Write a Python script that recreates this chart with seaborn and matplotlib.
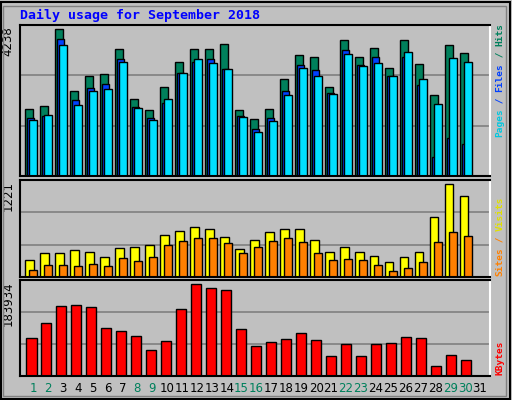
import numpy as np
import pandas as pd
import matplotlib.pyplot as plt
import seaborn as sns
from matplotlib.patches import Rectangle

days = list(range(1, 32))
hits = [1921, 2006, 4238, 2458, 2882, 2938, 3673, 2232, 1893, 2571, 3277, 3673, 3673, 3814, 1893, 1638,
        1921, 2797, 3475, 3418, 2571, 3927, 3418, 3701, 3108, 3927, 3221, 2345, 3786, 3560, 0]
files = [1667, 1723, 3955, 2204, 2543, 2656, 3362, 1978, 1667, 2091, 2966, 3277, 3362, 3079, 1723, 1356,
         1667, 2458, 3192, 3051, 2401, 3644, 3192, 3418, 2882, 3418, 2627, 537, 1102, 932, 0]
pages = [1610, 1752, 3786, 2034, 2458, 2514, 3277, 1949, 1610, 2232, 2966, 3362, 3249, 3079, 1695, 1271,
         1582, 2345, 3108, 2882, 2373, 3531, 3164, 3249, 2882, 3588, 2797, 2062, 3390, 3277, 0]
visits = [220, 310, 310, 348, 322, 259, 373, 386, 424, 551, 602, 653, 628, 526, 360, 488,
          589, 628, 628, 488, 322, 386, 322, 271, 195, 259, 322, 780, 1221, 1060, 0]
sites = [93, 157, 157, 144, 170, 144, 246, 208, 259, 424, 475, 513, 513, 449, 310, 386,
         475, 513, 462, 310, 220, 233, 220, 157, 81, 119, 195, 462, 589, 538, 0]
kbytes = [75190, 105400, 139600, 141600, 137600, 95300, 89300, 79200, 53000, 69100, 133600, 183934,
          175900, 171800, 93300, 59100, 67100, 73200, 85300, 71200, 40900, 63100, 40900, 63100,
          65100, 77200, 75200, 20800, 43000, 32900, 0]
weekend = [1, 2, 8, 9, 15, 16, 22, 23, 29, 30]

BG = "#C0C0C0"
GREEN = "#00805C"
mono = "DejaVu Sans Mono"

sns.set_theme(style="white")
fig = plt.figure(figsize=(5.12, 4.0), dpi=100, facecolor=BG)
fig.patches.append(Rectangle((0.002, 0.003), 0.994, 0.993, transform=fig.transFigure,
                             fill=False, edgecolor="black", linewidth=1.5))
fig.patches.append(Rectangle((0.006, 0.01), 0.982, 0.975, transform=fig.transFigure,
                             fill=False, edgecolor="#808080", linewidth=1))

ax_top = fig.add_axes([0.039, 0.56, 0.919, 0.3775])
ax_mid = fig.add_axes([0.039, 0.3075, 0.919, 0.2425])
ax_bot = fig.add_axes([0.039, 0.06, 0.919, 0.24])


def draw(ax, series, ymax):
    ax.set_facecolor(BG)
    for f in (1 / 3, 2 / 3):
        ax.axhline(ymax * f, color="#808080", linewidth=1.2, zorder=0)
    for vals, off, w, col in series:
        df = pd.DataFrame({"x": np.array(days) - 0.5 + off + w / 2, "y": vals})
        df = df[df["y"] > 0]
        sns.barplot(data=df, x="x", y="y", native_scale=True, width=w, color=col,
                    saturation=1, edgecolor="black", linewidth=1, ax=ax, zorder=2)
    ax.set_xlim(0.167, 31.55)
    ax.set_ylim(0, ymax)
    ax.set_xticks([])
    ax.set_yticks([])
    ax.set_xlabel("")
    ax.set_ylabel("")
    for s in ax.spines.values():
        s.set_color("black")
        s.set_linewidth(1.5)
    ax.spines["right"].set_color("white")


draw(ax_top, [(hits, 0.0, 0.55, GREEN), (files, 0.13, 0.5, "#0040FF"),
              (pages, 0.27, 0.52, "#00E0FF")], 4353)
draw(ax_mid, [(visits, 0.0, 0.58, "#FFFF00"), (sites, 0.27, 0.52, "#FF8000")], 1268)
draw(ax_bot, [(kbytes, 0.07, 0.7, "#FF0000")], 192000)

fig.text(20 / 512, 1 - 15 / 400, "Daily usage for September 2018", color="#0000FF",
         fontsize=9.5, fontweight="bold", family=mono, va="center")

for ax, lab in ((ax_top, "4238"), (ax_mid, "1221"), (ax_bot, "183934")):
    ax.text(-0.012, 0.99, lab, transform=ax.transAxes, rotation=90, ha="right", va="top",
            fontsize=8.5, color="black")

fs = 6.8
char_px = 0.602 * fs * 100 / 72


def side_label(parts, y_bottom):
    y = y_bottom
    for txt, col in parts:
        fig.text(500 / 512, 1 - y / 400, txt, rotation=90, ha="center", va="bottom",
                 fontsize=fs, color=col, family=mono, fontweight="bold")
        y -= len(txt) * char_px


side_label([("Pages", "#00C8E0"), (" / ", "#0040FF"), ("Files", "#0040FF"),
            (" / ", GREEN), ("Hits", GREEN)], 137)
side_label([("Sites", "#FF8000"), (" / ", "#FF8000"), ("Visits", "#E0E000")], 276)
side_label([("KBytes", "#FF0000")], 375)

for d in days:
    x = 33 + (d - 1) * 14.9
    fig.text(x / 512, 1 - 389 / 400, str(d), ha="center", va="center", fontsize=8.5,
             color=GREEN if d in weekend else "black")

fig.savefig("out.png", dpi=100, facecolor=BG)
